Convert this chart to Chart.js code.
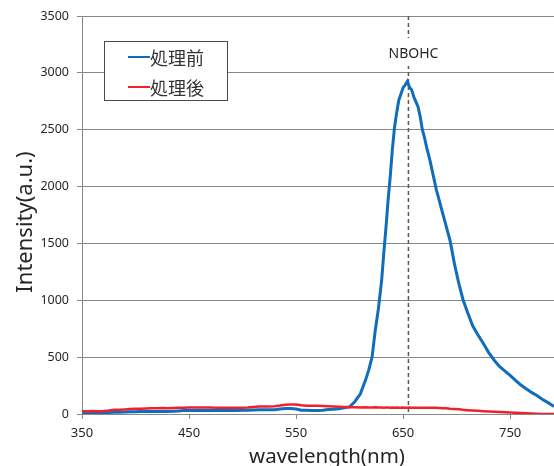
<!DOCTYPE html>
<html>
<head>
<meta charset="utf-8">
<script src="https://cdn.jsdelivr.net/npm/chart.js@4/dist/chart.umd.min.js"></script>
<style>
  html, body { margin: 0; padding: 0; background: #ffffff; }
  #wrap { width: 554px; height: 466px; }
</style>
</head>
<body>
<div id="wrap"><canvas id="spectrum" width="554" height="466"></canvas></div>
<script>
// Emission spectra (wavelength in nm, intensity in a.u.)
const wavelength = [
  350,355,360,365,370,375,380,385,390,395,400,405,410,415,420,425,430,435,440,445,
  450,455,460,465,470,475,480,485,490,495,500,505,510,515,520,525,530,535,540,545,
  550,555,560,565,570,575,580,585,590,595,600,605,610,615,618,621,624,627,630,632,
  634,636,638,640,642,644,646,648,650,652,654,656,658,660,662,664,666,668,670,672,
  675,678,681,684,687,690,694,698,702,706,710,715,720,725,730,735,740,745,750,755,
  760,765,770,775,780,785,790,791
];

const intensityBefore = [
  12,11,13,12,13,14,16,16,18,19,20,21,21,22,22,23,23,25,27,30,
  31,31,32,31,32,31,32,31,32,31,32,33,35,37,37,38,38,44,48,48,
  44,34,32,31,31,33,40,42,46,55,62,110,175,300,390,500,735,930,1180,1420,
  1640,1880,2090,2330,2520,2650,2760,2815,2870,2895,2925,2875,2850,2790,2745,2700,2615,2500,2430,2345,
  2235,2105,1975,1870,1765,1660,1520,1320,1150,1005,900,775,695,620,540,475,418,380,340,295,
  255,222,190,163,130,102,72,66
];

const intensityAfter = [
  25,25,26,25,26,30,37,38,40,43,46,47,49,51,51,52,51,52,54,56,
  57,57,58,57,58,56,55,54,55,54,56,58,62,65,66,66,68,74,82,84,
  83,76,73,72,72,71,68,66,63,61,60,59,58,60,58,57,59,57,58,56,
  57,58,56,57,55,57,56,55,57,56,55,57,56,55,56,55,56,54,55,56,
  54,55,54,53,51,50,47,45,41,37,34,31,28,25,22,20,18,16,14,11,
  9,7,5,3,1,0,0,0
];

const seriesLabels = ['処理前', '処理後'];
const seriesColors = ['#0E6EBC', '#F0202F'];
const xTickValues = [350, 450, 550, 650, 750];
const nbohcWavelength = 655;
const nbohcLabel = 'NBOHC';
const xTitle = 'wavelength(nm)';
const yTitle = 'Intensity(a.u.)';

const latinFont = '"Noto Sans", "DejaVu Sans", sans-serif';
const cjkFont = '"Noto Sans CJK JP", "Noto Sans", sans-serif';

const toPoints = (values) => wavelength.map((w, i) => ({ x: w, y: values[i] }));

// Dashed NBOHC marker, legend box and axis titles
const annotations = {
  id: 'annotations',
  beforeDatasetsDraw(chart) {
    const { ctx, chartArea, scales: { x } } = chart;
    const px = x.getPixelForValue(nbohcWavelength);
    ctx.save();
    ctx.strokeStyle = '#5a5a5a';
    ctx.lineWidth = 1.5;
    ctx.setLineDash([4, 3]);
    ctx.beginPath();
    ctx.moveTo(px, chartArea.top);
    ctx.lineTo(px, chartArea.bottom);
    ctx.stroke();
    ctx.setLineDash([]);
    ctx.font = '14px ' + latinFont;
    const w = ctx.measureText(nbohcLabel).width;
    const cx = px + 5;
    ctx.fillStyle = '#ffffff';
    ctx.fillRect(cx - w / 2 - 4, chartArea.top + 22, w + 8, 28);
    ctx.fillStyle = '#262626';
    ctx.textAlign = 'center';
    ctx.textBaseline = 'alphabetic';
    ctx.fillText(nbohcLabel, cx, chartArea.top + 42);
    ctx.restore();
  },
  afterDatasetsDraw(chart) {
    const { ctx } = chart;
    ctx.save();
    // legend frame
    ctx.fillStyle = '#ffffff';
    ctx.fillRect(104.5, 41.5, 123, 59);
    ctx.strokeStyle = '#4a4a4a';
    ctx.lineWidth = 1;
    ctx.strokeRect(104.5, 41.5, 123, 59);
    const rows = [57, 87];
    chart.data.datasets.forEach((ds, i) => {
      ctx.strokeStyle = ds.borderColor;
      ctx.lineWidth = 2;
      ctx.beginPath();
      ctx.moveTo(128, rows[i]);
      ctx.lineTo(150, rows[i]);
      ctx.stroke();
      ctx.fillStyle = '#333333';
      ctx.font = '18px ' + cjkFont;
      ctx.textAlign = 'left';
      ctx.textBaseline = 'middle';
      ctx.fillText(ds.label, 150, rows[i] + 1);
    });
    ctx.restore();
  },
  afterDraw(chart) {
    const { ctx } = chart;
    ctx.save();
    ctx.fillStyle = '#262626';
    ctx.textAlign = 'center';
    ctx.textBaseline = 'alphabetic';
    ctx.font = '20.5px ' + latinFont;
    ctx.fillText(xTitle, 327, 462.5);
    ctx.translate(31.5, 222);
    ctx.rotate(-Math.PI / 2);
    ctx.font = '22px ' + latinFont;
    ctx.fillText(yTitle, 0, 0);
    ctx.restore();
  }
};

new Chart(document.getElementById('spectrum'), {
  type: 'line',
  data: {
    datasets: [
      {
        label: seriesLabels[0],
        data: toPoints(intensityBefore),
        borderColor: seriesColors[0],
        borderWidth: 3,
        pointRadius: 0,
        tension: 0,
        fill: false,
        order: 1
      },
      {
        label: seriesLabels[1],
        data: toPoints(intensityAfter),
        borderColor: seriesColors[1],
        borderWidth: 2.5,
        pointRadius: 0,
        tension: 0,
        fill: false,
        order: 0
      }
    ]
  },
  options: {
    responsive: false,
    animation: false,
    devicePixelRatio: 1,
    layout: { padding: { top: 16, left: 0, right: 0, bottom: 0 } },
    plugins: { legend: { display: false }, tooltip: { enabled: false } },
    scales: {
      x: {
        type: 'linear',
        min: 350,
        max: 791,
        afterBuildTicks: (s) => { s.ticks = xTickValues.map(v => ({ value: v })); },
        afterFit: (s) => { s.height = 52; },
        grid: { drawOnChartArea: false, drawTicks: true, tickLength: 5, color: '#888888', lineWidth: 1 },
        border: { display: true, color: '#888888', width: 1 },
        ticks: {
          autoSkip: false, maxRotation: 0, padding: 6, color: '#262626',
          font: { family: latinFont, size: 13 },
          callback: (v) => String(v)
        }
      },
      y: {
        min: 0,
        max: 3500,
        afterFit: (s) => { s.width = 82; },
        grid: { color: '#888888', lineWidth: 1, drawTicks: true, tickLength: 5 },
        border: { display: true, color: '#888888', width: 1 },
        ticks: {
          stepSize: 500, padding: 8, color: '#262626',
          font: { family: latinFont, size: 12.5 },
          callback: (v) => String(v)
        }
      }
    }
  },
  plugins: [annotations]
});
</script>
</body>
</html>
